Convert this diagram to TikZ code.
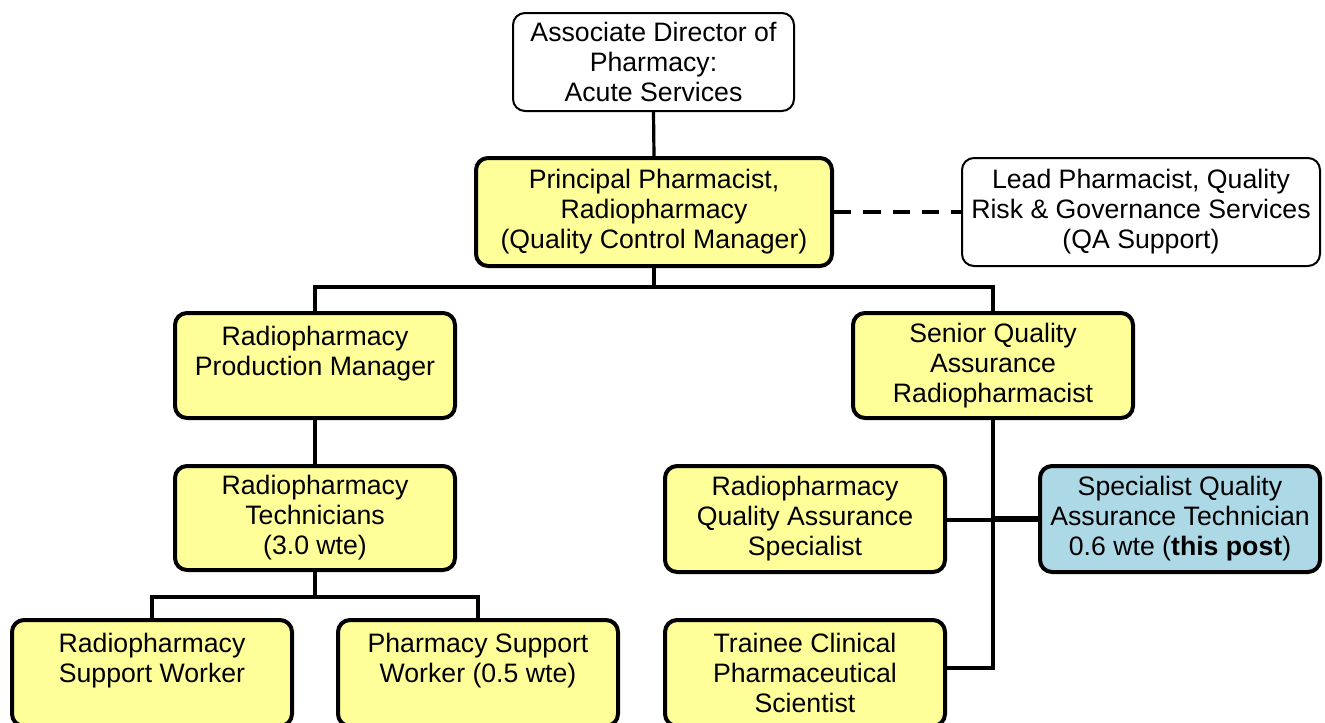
\documentclass[tikz,border=0pt]{standalone}
\usepackage{fontspec}
\setmainfont{Liberation Sans}
\definecolor{boxyellow}{HTML}{FFFF99}
\definecolor{boxblue}{HTML}{ADD8E6}
\begin{document}
\begin{tikzpicture}[x=0.75pt,y=-0.75pt,
  base/.style={rectangle,rounded corners=9pt,align=center,inner sep=0pt,
    font=\fontsize{20}{22.5}\selectfont,minimum width=210pt},
  whitebox/.style={base,draw,line width=1.5pt,fill=white},
  yellowbox/.style={base,draw,line width=3pt,fill=boxyellow},
  bluebox/.style={base,draw,line width=3pt,fill=boxblue},
  conn/.style={line width=2.4pt},
  thickconn/.style={line width=4.5pt},
  dashconn/.style={line width=3pt,dash pattern=on 13pt off 9pt}]
\useasboundingbox (0,0) rectangle (1325,722);
\clip (0,0) rectangle (1325,722);
\node[whitebox,minimum width=210.75pt,minimum height=73.5pt] (top) at (653.5,62) {Associate Director of\\Pharmacy:\\Acute Services};
\node[yellowbox,minimum width=267pt,minimum height=81pt] (pp) at (654,212) {Principal Pharmacist,\\Radiopharmacy\\(Quality Control Manager)};
\node[whitebox,minimum width=268.5pt,minimum height=81pt] (lead) at (1141,212) {Lead Pharmacist, Quality\\Risk \& Governance Services\\(QA Support)};
\node[yellowbox,minimum height=78.75pt] (prod) at (315,365.5) {Radiopharmacy\\Production Manager\\\mbox{}};
\node[yellowbox,minimum height=78.75pt] (sqa) at (993,365.5) {Senior Quality\\Assurance\\Radiopharmacist};
\node[yellowbox,minimum height=78pt] (tech) at (315,518) {Radiopharmacy\\Technicians\\(3.0 wte)};
\node[yellowbox,minimum height=79.5pt] (rqa) at (805,519) {Radiopharmacy\\Quality Assurance\\Specialist};
\node[bluebox,minimum height=79.5pt] (sqat) at (1180,519) {Specialist Quality\\Assurance Technician\\0.6 wte (\textbf{this post})};
\node[yellowbox,minimum height=79.5pt] (rsw) at (152,673) {Radiopharmacy\\Support Worker\\\mbox{}};
\node[yellowbox,minimum height=79.5pt] (psw) at (478,673) {Pharmacy Support\\Worker (0.5 wte)\\\mbox{}};
\node[yellowbox,minimum height=79.5pt] (trainee) at (805,673) {Trainee Clinical\\Pharmaceutical\\Scientist};
\coordinate (j1) at (654,287);
\coordinate (j2) at (315,597);
\draw[conn] (top.south) -- (pp.north);
\draw[dashconn] (pp.east) -- (lead.west);
\draw[conn] (pp.south) -- (j1);
\draw[conn] (prod.north) |- (j1) -| (sqa.north);
\draw[conn] (prod.south) -- (tech.north);
\draw[conn] (tech.south) -- (j2);
\draw[conn] (rsw.north) |- (j2) -| (psw.north);
\draw[conn] (sqa.south) |- ([yshift=3.75pt]trainee.east);
\draw[conn] ([yshift=-0.75pt]rqa.east) -- ([yshift=-0.75pt]rqa.east -| sqa.south);
\draw[thickconn] (sqat.west) -- (sqat.west -| sqa.south);
\end{tikzpicture}
\end{document}
